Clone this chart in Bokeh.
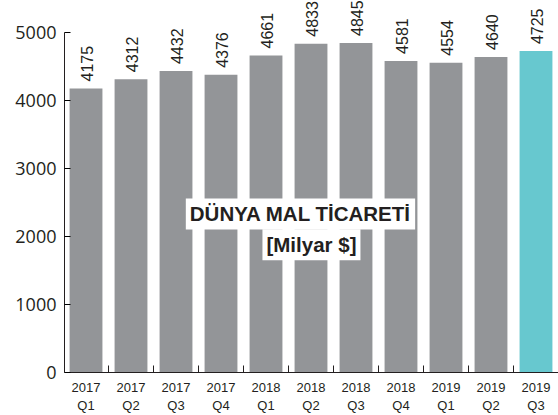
from bokeh.plotting import figure
from bokeh.models import ColumnDataSource, FixedTicker, Range1d, Label
from bokeh.embed import file_html
from bokeh.resources import INLINE
from bokeh.core.properties import value
import math

years = ["2017", "2017", "2017", "2017", "2018", "2018", "2018", "2018", "2019", "2019", "2019"]
quarters = ["Q1", "Q2", "Q3", "Q4", "Q1", "Q2", "Q3", "Q4", "Q1", "Q2", "Q3"]
trade = [4175, 4312, 4432, 4376, 4661, 4833, 4845, 4581, 4554, 4640, 4725]
y_ticks = [0, 1000, 2000, 3000, 4000, 5000]

xs = list(range(len(trade)))
colors = ["#939598"] * (len(trade) - 1) + ["#67c8cf"]
labels = [str(v) for v in trade]

src = ColumnDataSource(dict(x=xs, top=trade, color=colors, label=labels))

p = figure(width=558, height=415, output_backend="svg", toolbar_location=None,
           x_range=Range1d(-0.478, 10.5), y_range=Range1d(0, 5469),
           min_border_left=64, min_border_right=0, min_border_top=0, min_border_bottom=42)
p.outline_line_color = None
p.xgrid.grid_line_color = None
p.ygrid.grid_line_color = None
p.background_fill_color = "white"

p.vbar(x="x", top="top", width=0.73, bottom=0, fill_color="color", line_color=None, source=src)

p.text(x="x", y="top", text="label", angle=math.pi / 2, text_align="left", text_baseline="middle",
       y_offset=-7, x_offset=1, text_font=value("Liberation Sans"), text_font_size="16px",
       text_color="#231f20", source=src)

# y axis
p.yaxis.ticker = FixedTicker(ticks=y_ticks)
p.yaxis.bounds = (0, 5000)
p.yaxis.axis_line_color = "#231f20"
p.yaxis.major_tick_in = 6
p.yaxis.major_tick_out = 0
p.yaxis.minor_tick_line_color = None
p.yaxis.major_label_text_font = "Open Sans"
p.yaxis.major_label_text_font_size = "18px"
p.yaxis.major_label_text_color = "#231f20"
p.yaxis.major_label_standoff = 8

# x axis
p.xaxis.ticker = FixedTicker(ticks=xs, minor_ticks=[i + 0.5 for i in xs])
p.xaxis.major_label_overrides = {i: f"{years[i]}\n{quarters[i]}" for i in xs}
p.xaxis.major_tick_line_color = None
p.xaxis.minor_tick_in = 7
p.xaxis.minor_tick_out = 0
p.xaxis.minor_tick_line_color = "#231f20"
p.xaxis.axis_line_color = "#231f20"
p.xaxis.major_label_text_font = "Liberation Sans"
p.xaxis.major_label_text_font_size = "13px"
p.xaxis.major_label_text_color = "#231f20"
p.xaxis.major_label_standoff = 1

t1 = Label(x=4.766, y=2331, text="DÜNYA MAL TİCARETİ", text_align="center", text_baseline="middle",
           text_font="Liberation Sans", text_font_style="bold", text_font_size="20.5px",
           text_color="#231f20", background_fill_color="white", padding=4)
t2 = Label(x=5.01, y=1877, text="[Milyar $]", text_align="center", text_baseline="middle",
           text_font="Liberation Sans", text_font_style="bold", text_font_size="20.5px",
           text_color="#231f20", background_fill_color="white", padding=4)
p.add_layout(t1)
p.add_layout(t2)

open("out.html", "w").write(file_html(p, INLINE))
